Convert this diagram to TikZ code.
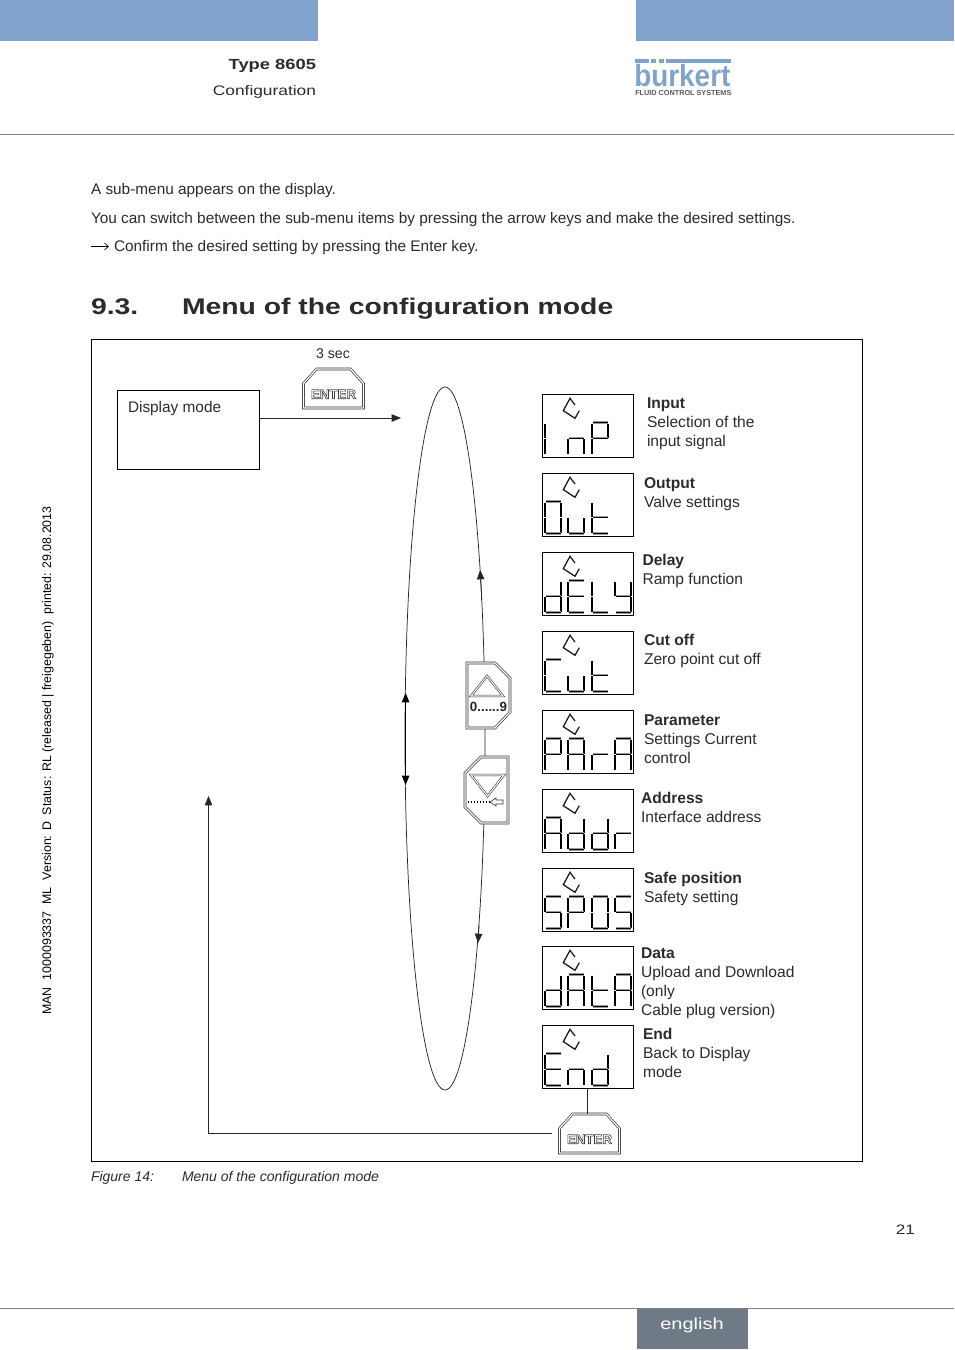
\documentclass[tikz,border=0pt]{standalone}
\usepackage{fontspec}
\setmainfont{Liberation Sans}
\newfontfamily\widefont[FakeStretch=1.25]{Liberation Sans}
\newfontfamily\logofont[FakeStretch=0.91]{Liberation Sans}
\usetikzlibrary{arrows.meta}
\definecolor{hdrblue}{HTML}{7FA3CC}
\definecolor{ftrgray}{HTML}{6E7B87}
\definecolor{txt}{HTML}{2B2B2B}
\newcommand\outlined[1]{\special{pdf:code 1 Tr 0.45 w 0.25 G}#1\special{pdf:code 0 Tr 0 G}}
\tikzset{
  x=0.75pt,y=-0.75pt,
  tx/.style={inner sep=0pt,outer sep=0pt,text=txt,font=\fontsize{11.53}{14.25}\selectfont},
  bodytx/.style={tx,anchor=base west},
  lab/.style={tx,anchor=north west,align=left,font=\fontsize{11.7}{14.25}\selectfont},
  thin line/.style={draw=black!85,line width=0.55pt},
  tip/.style={-{Triangle[length=7pt,width=5.6pt]}},
  arr/.style={thin line,tip},
  lcdbox/.style={draw=black,line width=0.75pt,fill=white,minimum width=68.5pt,minimum height=47.25pt,inner sep=0pt,outer sep=0pt},
  btnline/.style={draw=black!80,line width=0.5pt,double=white,double distance=0.9pt,fill=white,line join=miter},
  enterbtn/.style={minimum width=47.25pt,minimum height=30pt,inner sep=0pt,outer sep=0pt,text=black!55,font=\fontsize{10}{10}\selectfont\bfseries},
}
\newcommand\segline[4]{%
  \draw[line width=1.7pt,draw=black!40,line cap=butt] (#1,#2) -- (#3,#4);
  \draw[line width=0.95pt,draw=black,line cap=butt] (#1,#2) -- (#3,#4);}
\makeatletter
\newcommand\digit[3]{% x, y(box top), letters
  \def\dx{#1}\def\dy{#2}%
  \@tfor\sg:=#3\do{%
    \if a\sg \segline{\dx+0.5}{\dy+28.5}{\dx+15.5}{\dy+28.5}\fi
    \if b\sg \segline{\dx+16}{\dy+29.5}{\dx+16}{\dy+43.5}\fi
    \if c\sg \segline{\dx+16}{\dy+45}{\dx+16}{\dy+59.5}\fi
    \if d\sg \segline{\dx+0.5}{\dy+60.5}{\dx+15.5}{\dy+60.5}\fi
    \if e\sg \segline{\dx}{\dy+45}{\dx}{\dy+59.5}\fi
    \if f\sg \segline{\dx}{\dy+29.5}{\dx}{\dy+43.5}\fi
    \if g\sg \segline{\dx+0.5}{\dy+44.2}{\dx+15.5}{\dy+44.2}\fi
  }}
\makeatother
\newcommand\lcd[6]{% name, y top, four digit codes
  \node[lcdbox] (#1) at (587.8,#2+31.5) {};
  \draw[line width=0.95pt,draw=black!90,line join=miter] (542+33,#2+11) -- (542+28,#2+4.3) -- (542+21.3,#2+16.7) -- (542+33,#2+24.3) -- (542+37.3,#2+16.7);
  \digit{545}{#2}{#3}\digit{568}{#2}{#4}\digit{592}{#2}{#5}\digit{615}{#2}{#6}}
\newcommand\enterkey[3]{% name, cx, cy
  \draw[btnline] (#2-30,#3+19.5) -- (#2-30,#3-5) -- (#2-17,#3-19.5) -- (#2+17,#3-19.5) -- (#2+30,#3-5) -- (#2+30,#3+19.5) -- cycle;
  \node[enterbtn] (#1) at (#2,#3) {\raisebox{-7.7pt}[0pt][0pt]{\outlined{ENTER}}};}
\begin{document}
\begin{tikzpicture}
\useasboundingbox (0,0) rectangle (954,1350);
% header and footer
\fill[hdrblue] (0,0) rectangle (318,41);
\fill[hdrblue] (636,0) rectangle (954,41);
\draw[draw=black!50,line width=0.5pt] (0,134.5) -- (954,134.5);
\draw[draw=black!50,line width=0.5pt] (0,1308.5) -- (954,1308.5);
\fill[ftrgray] (637,1309) rectangle (748,1349);
\node[anchor=base,inner sep=0pt,text=white,font=\widefont\fontsize{12}{14}\selectfont] (lang) at (692,1329) {english};
\node[tx,anchor=base east,font=\widefont\bfseries\fontsize{11}{13}\selectfont] (type) at (316,69) {Type 8605};
\node[tx,anchor=base east,font=\widefont\fontsize{10.4}{13}\selectfont] (conf) at (316,95) {Configuration};
\node[tx,anchor=base east,font=\widefont\fontsize{10.3}{13}\selectfont] (pg) at (915,1234) {21};
% logo
\fill[hdrblue] (635,59) rectangle (648.5,63);
\fill[hdrblue] (651,59) rectangle (656,63);
\fill[hdrblue] (658.5,59) rectangle (664,63);
\fill[hdrblue] (666,59) rectangle (731,63);
\node[anchor=base west,inner sep=0pt,text=hdrblue,font=\logofont\fontsize{23}{24}\selectfont\bfseries] (logo) at (634,86) {burkert};
\node[anchor=base west,inner sep=0pt,text=black!65,font=\fontsize{5.45}{6}\selectfont\bfseries] (logosub) at (635,95) {FLUID CONTROL SYSTEMS};
% side text
\node[rotate=90,anchor=base west,inner sep=0pt,text=black,font=\fontsize{9.3}{10}\selectfont] (side) at (51,1015) {MAN\ \ 1000093337\ \ ML\ \ Version: D\ \ Status: RL (released | freigegeben)\ \ printed: 29.08.2013};
% body
\node[bodytx] (l1) at (91,194) {A sub-menu appears on the display.};
\node[bodytx] (l2) at (91,223) {You can switch between the sub-menu items by pressing the arrow keys and make the desired settings.};
\coordinate (arrA) at (91,246.5);
\coordinate (arrB) at (109,246.5);
\draw[black,line width=0.5pt,-{Straight Barb[length=3pt,width=5pt]}] (arrA) -- (arrB);
\node[bodytx] (l3) at (114,251) {Confirm the desired setting by pressing the Enter key.};
\node[tx,anchor=base west,font=\widefont\bfseries\fontsize{17}{20}\selectfont] (secn) at (91,314) {9.3.};
\node[tx,anchor=base west,font=\widefont\bfseries\fontsize{17}{20}\selectfont] (sect) at (182,314) {Menu of the configuration mode};
% frame
\draw[draw=black,line width=0.6pt] (91.5,339.5) rectangle (862.5,1161.5);
\node[tx,anchor=base west,font=\fontsize{10.5}{12}\selectfont\itshape] (fign) at (91,1181) {Figure 14:};
\node[tx,anchor=base west,font=\fontsize{10.5}{12}\selectfont\itshape] (figt) at (182,1181) {Menu of the configuration mode};
% ring
\draw[thin line] (445,738.5) ellipse [x radius=40,y radius=351.5];
\coordinate (upR0) at (481.8,600); \coordinate (upR1) at (480.1,570);
\coordinate (dnR0) at (479.1,925); \coordinate (dnR1) at (478,943);
\coordinate (lfU) at (405.6,693); \coordinate (lfD) at (405.6,785);
\draw[arr] (upR0) -- (upR1);
\draw[arr] (dnR0) -- (dnR1);
\draw[thin line,{Triangle[length=7pt,width=5.6pt]}-{Triangle[length=7pt,width=5.6pt]},draw=black] (lfU) -- (lfD);
% display mode
\node[draw=black,line width=0.55pt,minimum width=107pt,minimum height=59.5pt,inner sep=0pt,outer sep=0pt] (dm) at (188.5,430) {};
\node[tx,anchor=base west] (dmt) at (128,412) {Display mode};
\coordinate (ringIn) at (401,418);
\draw[arr] (ringIn -| dm.east) -- (ringIn);
\node[tx,anchor=base,font=\fontsize{10.6}{12}\selectfont] (sec) at (333,358) {3 sec};
\enterkey{enterA}{333.5}{388.5}
% buttons
\draw[btnline] (467,663) -- (495,663) -- (510,678) -- (510,712) -- (495,728) -- (467,728) -- cycle;
\draw[draw=black!80,line width=0.45pt,double=white,double distance=0.8pt] (487,676) -- (471,696) -- (503,696) -- cycle;
\node[inner sep=0pt,font=\fontsize{10}{10}\selectfont\bfseries,text=black!85] (btnUp) at (488.5,707) {0......9};
\draw[btnline] (465,773) -- (481,757) -- (508,757) -- (508,823) -- (481,823) -- (465,807) -- cycle;
\draw[draw=black!80,line width=0.45pt,double=white,double distance=0.8pt] (471,775) -- (504,775) -- (487.5,796) -- cycle;
\coordinate (dotA) at (468,802); \coordinate (dotB) at (490,802);
\draw[black,line width=1pt,dash pattern=on 1pt off 1.2pt] (dotA) -- (dotB);
\draw[black!80,line width=0.5pt] (490,802) -- (496,798) -- (496,800) -- (503,800) -- (503,804) -- (496,804) -- (496,806) -- cycle;
% displays
\lcd{lInp}{394}{ef}{gec}{abfge}{}
\lcd{lOut}{473}{abcdef}{cde}{fegd}{}
\lcd{lDly}{552}{bcdeg}{afged}{fed}{fgbcd}
\lcd{lCut}{631}{afed}{cde}{fegd}{}
\lcd{lPar}{710}{abfge}{abcefg}{eg}{abcefg}
\lcd{lAdr}{789}{abcefg}{bcdeg}{bcdeg}{eg}
\lcd{lSps}{868}{afgcd}{abfge}{abcdef}{afgcd}
\lcd{lDat}{946}{bcdeg}{abcefg}{fegd}{abcefg}
\lcd{lEnd}{1025}{afged}{gec}{bcdeg}{}
% labels
\node[lab] (tInp) at (647,398) {\textbf{Input}\\Selection of the\\input signal};
\node[lab] (tOut) at (644,478) {\textbf{Output}\\Valve settings};
\node[lab] (tDly) at (642.5,554.5) {\textbf{Delay}\\Ramp function};
\node[lab] (tCut) at (644,634.5) {\textbf{Cut off}\\Zero point cut off};
\node[lab] (tPar) at (644,715) {\textbf{Parameter}\\Settings Current\\control};
\node[lab] (tAdr) at (641,792.5) {\textbf{Address}\\Interface address};
\node[lab] (tSps) at (644,872.5) {\textbf{Safe position}\\Safety setting};
\node[lab] (tDat) at (641,948) {\textbf{Data}\\Upload and Download\\(only\\Cable plug version)};
\node[lab] (tEnd) at (643,1028.5) {\textbf{End}\\Back to Display\\mode};
% exit
\enterkey{enterB}{589.5}{1133.5}
\draw[thin line] (lEnd.south -| 587.5,0) -- (587.5,1113.5);
\coordinate (ret) at (208.5,796);
\draw[arr,shorten <=4.5pt] (enterB.west) -| (ret);
\end{tikzpicture}
\end{document}
